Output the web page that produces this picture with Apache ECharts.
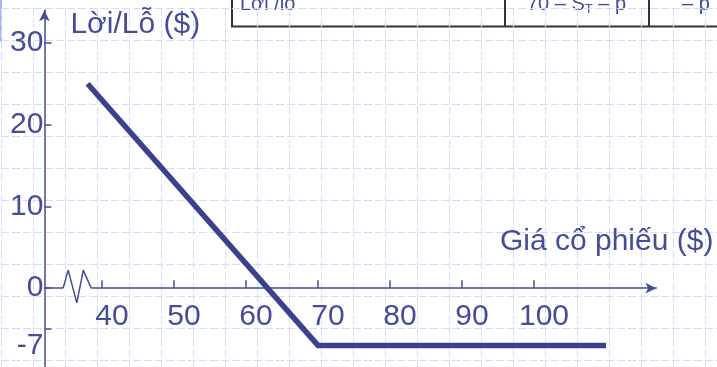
<!DOCTYPE html>
<html>
<head>
<meta charset="utf-8">
<script src="https://cdn.jsdelivr.net/npm/echarts@6/dist/echarts.min.js"></script>
<style>
  html, body { margin: 0; padding: 0; background: #fff; }
  #chart { width: 717px; height: 367px; }
</style>
</head>
<body>
<div id="chart"></div>
<script>
// payoff of a long put (K = 70, p = 7): points
const payoffPrice = [38, 70, 110];
const payoffValue = [25, -7, -7];

// tick positions / labels
const xTicks = [40, 50, 60, 70, 80, 90, 100];
const yLabels = [-7, 0, 10, 20, 30];
const yTicks = [-5, 0, 10, 20, 30];

// little zigzag "axis break" near the origin
const breakPrice = [34.6, 35.3, 36.5, 37.4, 38.5];
const breakValue = [0, 2.2, -1.8, 2.2, 0];

const ink = '#454c98';
const lineInk = '#3b418c';
const font = '"Liberation Sans", Arial, sans-serif';

const yMin = -10;
const yMax = 34;
const plotTop = 10.2;
const plotHeight = 359.7;
// the price axis sits at 0 on the value axis
const xAxisShift = -plotHeight * (0 - yMin) / (yMax - yMin);

const myChart = echarts.init(document.getElementById('chart'));

const options = {
  animation: false,
  grid: [
    // main plot
    { left: 44.4, top: plotTop, width: 612, height: plotHeight, outerBoundsMode: 'none' },
    // graph-paper background
    { left: 1, top: 8, width: 736, height: 384, z: -1, outerBoundsMode: 'none' }
  ],
  xAxis: [
    {
      type: 'value',
      gridIndex: 0,
      min: 32,
      max: 117,
      position: 'bottom',
      offset: xAxisShift,
      name: 'Giá cổ phiếu ($)',
      nameLocation: 'end',
      nameGap: 57,
      nameTextStyle: {
        color: ink, fontSize: 30, fontFamily: font,
        align: 'right', verticalAlign: 'bottom', padding: [0, 0, 31, 0]
      },
      axisLine: {
        onZero: false,
        symbol: ['none', 'arrow'],
        symbolSize: [8, 11],
        lineStyle: { color: ink, width: 1.5 }
      },
      axisTick: {
        inside: true, length: 8, customValues: xTicks,
        lineStyle: { color: ink, width: 1.5 }
      },
      axisLabel: {
        customValues: xTicks,
        color: ink, fontSize: 30, fontFamily: font,
        margin: 14, padding: [0, 0, 0, 20]
      },
      splitLine: { show: false }
    },
    {
      type: 'value', gridIndex: 1, min: 0, max: 736, interval: 32,
      axisLine: { show: false }, axisTick: { show: false }, axisLabel: { show: false },
      splitLine: { lineStyle: { color: '#d3dcf8', width: 1, type: [8, 3] } }
    }
  ],
  yAxis: [
    {
      type: 'value',
      gridIndex: 0,
      min: yMin,
      max: yMax,
      name: 'Lời/Lỗ ($)',
      nameLocation: 'end',
      nameGap: 0,
      nameTextStyle: {
        color: ink, fontSize: 30, fontFamily: font,
        align: 'left', verticalAlign: 'top', padding: [0, 0, 0, 26]
      },
      axisLine: {
        onZero: false,
        symbol: ['none', 'arrow'],
        symbolSize: [8, 11],
        lineStyle: { color: ink, width: 1.5 }
      },
      axisTick: {
        inside: true, length: 7, customValues: yTicks,
        lineStyle: { color: ink, width: 1.5 }
      },
      axisLabel: {
        customValues: yLabels,
        color: ink, fontSize: 30, fontFamily: font,
        margin: 1
      },
      splitLine: { show: false }
    },
    {
      type: 'value', gridIndex: 1, min: 0, max: 384, interval: 32,
      axisLine: { show: false }, axisTick: { show: false }, axisLabel: { show: false },
      splitLine: { lineStyle: { color: '#d3dcf8', width: 1, type: [8, 3] } }
    }
  ],
  series: [
    {
      // hides the axis line under the zigzag
      type: 'line',
      xAxisIndex: 0, yAxisIndex: 0,
      data: [[breakPrice[0], 0], [breakPrice[breakPrice.length - 1], 0]],
      symbol: 'none',
      lineStyle: { color: '#fff', width: 4 },
      z: 3,
      silent: true
    },
    {
      type: 'line',
      xAxisIndex: 0, yAxisIndex: 0,
      data: breakPrice.map((x, i) => [x, breakValue[i]]),
      symbol: 'none',
      lineStyle: { color: ink, width: 1.5 },
      z: 4,
      silent: true
    },
    {
      type: 'line',
      name: 'Lời/Lỗ',
      xAxisIndex: 0, yAxisIndex: 0,
      data: payoffPrice.map((x, i) => [x, payoffValue[i]]),
      symbol: 'none',
      lineStyle: { color: lineInk, width: 5.5, cap: 'butt', join: 'miter' },
      z: 5
    }
  ],
  graphic: [
    // bit of the slide's left bar
    { type: 'rect', left: 0, top: 0, shape: { width: 2, height: 42 }, style: { fill: '#a9b6f0' } },
    // bottom of the table above the chart
    { type: 'polyline', shape: { points: [[232, 0], [232, 26.5], [717, 26.5]] }, style: { stroke: '#333', lineWidth: 2, fill: null } },
    { type: 'line', shape: { x1: 505, y1: 0, x2: 505, y2: 26 }, style: { stroke: '#333', lineWidth: 2 } },
    { type: 'line', shape: { x1: 649, y1: 0, x2: 649, y2: 26 }, style: { stroke: '#333', lineWidth: 2 } },
    {
      type: 'text', left: 240, top: -6,
      style: { text: 'Lời /lỗ', fill: '#3f4a9c', font: '20px ' + font }
    },
    {
      type: 'text', left: 527, top: -6,
      style: {
        text: '70 – S{sub|T} – p',
        fill: '#3f4a9c', font: '20px ' + font,
        rich: { sub: { fontSize: 13, fontFamily: font, fill: '#3f4a9c', padding: [11, 0, 0, 0] } }
      }
    },
    {
      type: 'text', left: 682, top: -6,
      style: { text: '– p', fill: '#3f4a9c', font: '20px ' + font }
    }
  ]
};

myChart.setOption(options);
</script>
</body>
</html>
